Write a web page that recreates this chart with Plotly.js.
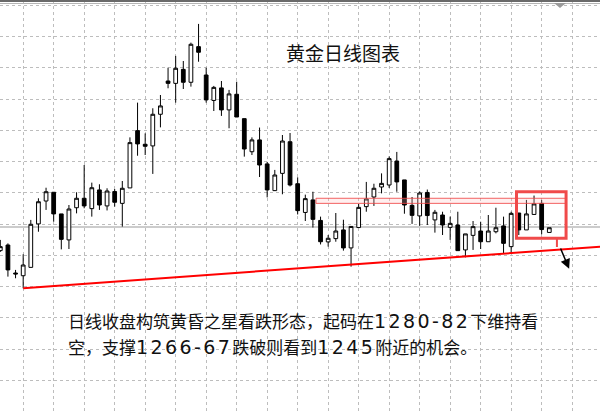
<!DOCTYPE html>
<html>
<head>
<meta charset="utf-8">
<script src="https://cdn.plot.ly/plotly-3.0.1.min.js"></script>
<style>html,body{margin:0;padding:0;background:#fff;}#chart{width:600px;height:411px;}</style>
</head>
<body>
<div id="chart"></div>
<script>
// bar index (one per trading day)
const barIndex = [0,1,2,3,4,5,6,7,8,9,10,11,12,13,14,15,16,17,18,19,20,21,22,23,24,25,26,27,28,29,30,31,32,33,34,35,36,37,38,39,40,41,42,43,44,45,46,47,48,49,50,51,52,53,54,55,56,57,58,59,60,61,62,63,64,65,66,67,68,69,70,71,72];
const openPrices = [1254.0,1257.1,1241.7,1240.2,1244.8,1268.7,1281.3,1286.1,1274.2,1259.9,1277.6,1282.8,1277.1,1287.4,1278.6,1286.5,1280.0,1288.5,1320.0,1312.5,1311.6,1329.0,1347.3,1346.0,1353.7,1346.6,1366.2,1350.6,1336.6,1343.5,1331.4,1340.0,1326.6,1308.4,1314.9,1301.7,1287.0,1296.5,1313.9,1290.8,1275.0,1281.9,1270.6,1258.8,1260.6,1265.4,1255.5,1266.7,1278.2,1283.5,1289.0,1290.1,1303.3,1292.9,1278.9,1273.1,1286.0,1270.9,1273.6,1266.8,1268.1,1254.4,1262.4,1264.8,1258.9,1264.4,1267.6,1256.2,1274.7,1265.4,1273.9,1280.0,1264.0];
const highPrices = [1259.9,1258.0,1243.4,1252.0,1270.9,1282.8,1288.6,1286.1,1274.2,1279.1,1286.1,1301.1,1291.4,1290.5,1288.3,1287.9,1292.3,1316.3,1335.4,1318.5,1332.3,1339.6,1354.6,1361.1,1358.3,1368.4,1378.7,1354.6,1344.6,1347.3,1342.4,1346.9,1326.6,1316.3,1321.7,1302.8,1298.4,1317.6,1318.7,1294.3,1284.8,1286.4,1272.7,1262.6,1274.7,1271.0,1267.3,1279.7,1291.8,1290.8,1296.5,1305.8,1308.3,1292.9,1283.5,1286.6,1287.6,1276.4,1275.4,1272.7,1275.4,1263.2,1270.3,1269.9,1273.6,1277.6,1272.7,1275.4,1274.7,1281.9,1284.3,1281.9,1266.6];
const lowPrices = [1253.3,1239.7,1238.8,1233.3,1244.8,1264.4,1276.4,1269.9,1254.7,1254.9,1274.5,1277.3,1272.7,1276.4,1276.1,1278.2,1267.2,1288.5,1306.2,1306.6,1296.2,1321.8,1343.3,1335.4,1342.9,1344.2,1357.9,1335.4,1330.8,1328.1,1321.3,1327.5,1305.7,1306.6,1294.5,1283.3,1286.8,1285.0,1289.3,1273.9,1270.3,1266.7,1257.4,1256.2,1258.9,1254.0,1245.2,1266.7,1275.4,1278.6,1285.5,1288.5,1286.4,1274.3,1268.7,1267.6,1268.1,1263.9,1262.6,1259.9,1254.0,1250.3,1254.4,1254.9,1258.9,1263.5,1252.5,1252.5,1262.6,1265.4,1273.9,1263.0,1264.0];
const closePrices = [1256.2,1243.4,1241.2,1246.1,1268.5,1280.9,1286.4,1274.2,1260.2,1276.9,1282.8,1278.6,1288.6,1279.1,1286.8,1280.6,1288.3,1313.4,1312.7,1311.4,1329.0,1333.6,1346.0,1354.3,1346.6,1367.5,1363.1,1336.9,1343.8,1331.4,1340.2,1327.5,1309.9,1314.9,1301.1,1287.4,1295.6,1314.3,1290.1,1276.0,1282.6,1271.2,1258.9,1260.8,1264.8,1255.5,1267.3,1277.8,1282.4,1288.3,1291.0,1304.6,1291.8,1279.1,1273.4,1285.7,1273.3,1275.1,1268.1,1269.0,1254.0,1263.2,1267.2,1258.9,1264.8,1266.6,1258.0,1274.5,1265.4,1274.2,1279.7,1265.6,1266.6];

// drawn objects
const trendX = [3, 78.7];
const trendY = [1233.3, 1256.2];
const supportLevel = 1267.0;
const resistanceBand = [1280.0, 1282.8];
const resistanceX = [41.4, 74.2];
const boxX = [67.7, 74.2];
const boxY = [1260.8, 1286.4];
const connectorX = 73.0;
const arrowFrom = [73.4, 1256.0];
const arrowTo = [74.6, 1244.0];

const titleText = '黄金日线图表';
const noteParts1 = ['日线收盘构筑黄昏之星看跌形态，起码在', '1280-82', '下维持看'];
const noteParts2 = ['空，支撑', '1266-67', '跌破则看到', '1245', '附近的机会。'];

const cjk = '"Noto Sans CJK SC", "Noto Sans", sans-serif';
const numStyle = 'font-family:DejaVu Sans;font-size:19px;letter-spacing:2.4px';
function richText(parts) {
  return parts.map(p => /^[0-9\-]+$/.test(p) ? '<span style="' + numStyle + '">' + p + '</span>' : p).join('');
}

const traces = [
  {
    type: 'candlestick',
    x: barIndex, open: openPrices, high: highPrices, low: lowPrices, close: closePrices,
    increasing: {line: {color: '#000000', width: 1}, fillcolor: '#ffffff'},
    decreasing: {line: {color: '#000000', width: 1}, fillcolor: '#000000'},
    whiskerwidth: 0,
    hoverinfo: 'skip',
    showlegend: false
  },
  {
    type: 'scatter', mode: 'lines', x: trendX, y: trendY,
    line: {color: '#ff0000', width: 2}, hoverinfo: 'skip', showlegend: false
  }
];

const layout = {
  width: 600, height: 411,
  margin: {l: 0, r: 0, t: 0, b: 0},
  paper_bgcolor: '#ffffff', plot_bgcolor: '#ffffff',
  showlegend: false,
  xaxis: {
    range: [-0.04, 78.65], rangeslider: {visible: false},
    showgrid: true, gridcolor: '#bdbdbd', griddash: '3px,3px', gridwidth: 1,
    tick0: 3, dtick: 4, showticklabels: false, ticks: '', zeroline: false, showline: false
  },
  yaxis: {
    range: [1165.8, 1391.85],
    showgrid: true, gridcolor: '#bdbdbd', griddash: '3px,3px', gridwidth: 1,
    tick0: 1371.665, dtick: 17.1875, showticklabels: false, ticks: '', zeroline: false, showline: false
  },
  shapes: [
    {type: 'line', xref: 'paper', yref: 'y', x0: 0, x1: 1, y0: supportLevel, y1: supportLevel,
     line: {color: '#cccccc', width: 2}, layer: 'below'},
    {type: 'rect', xref: 'x', yref: 'y', x0: resistanceX[0], x1: resistanceX[1], y0: resistanceBand[0], y1: resistanceBand[1],
     line: {color: 'rgba(240,70,70,0.85)', width: 1}, fillcolor: 'rgba(255,190,190,0.25)'},
    {type: 'rect', xref: 'x', yref: 'y', x0: boxX[0], x1: boxX[1], y0: boxY[0], y1: boxY[1],
     line: {color: '#f04a4a', width: 3}, fillcolor: 'rgba(0,0,0,0)'},
    {type: 'line', xref: 'x', yref: 'y', x0: connectorX, x1: connectorX, y0: boxY[0], y1: arrowFrom[1],
     line: {color: '#f04a4a', width: 2}},
    {type: 'line', xref: 'paper', yref: 'paper', x0: 0, x1: 1, y0: 1 - 1/411, y1: 1 - 1/411,
     line: {color: '#6a6a6a', width: 2}},
    {type: 'line', xref: 'paper', yref: 'paper', x0: 0, x1: 1, y0: 1 - 3.5/411, y1: 1 - 3.5/411,
     line: {color: '#b5b5b5', width: 1}},
    {type: 'path', xref: 'paper', yref: 'paper',
     path: 'M ' + (554/600) + ' ' + (1 - 3/411) + ' L ' + (566/600) + ' ' + (1 - 3/411) + ' L ' + (560/600) + ' ' + (1 - 8/411) + ' Z',
     fillcolor: '#9a9a9a', line: {width: 0}}
  ],
  annotations: [
    {xref: 'x', yref: 'y', axref: 'x', ayref: 'y', x: arrowTo[0], y: arrowTo[1], ax: arrowFrom[0], ay: arrowFrom[1],
     text: '', showarrow: true, arrowhead: 2, arrowsize: 1.3, arrowwidth: 1.5, arrowcolor: '#000000'},
    {xref: 'paper', yref: 'paper', x: 342.5/600, y: 1 - 52/411, xanchor: 'center', yanchor: 'middle',
     text: titleText, showarrow: false, font: {family: cjk, size: 19, color: '#111111'}},
    {xref: 'paper', yref: 'paper', x: 66/600, y: 1 - 320/411, xanchor: 'left', yanchor: 'middle',
     text: richText(noteParts1), showarrow: false, font: {family: cjk, size: 17, color: '#111111'}},
    {xref: 'paper', yref: 'paper', x: 66/600, y: 1 - 346/411, xanchor: 'left', yanchor: 'middle',
     text: richText(noteParts2), showarrow: false, font: {family: cjk, size: 17, color: '#111111'}}
  ]
};

Plotly.newPlot('chart', traces, layout, {displayModeBar: false, staticPlot: true});
</script>
</body>
</html>
